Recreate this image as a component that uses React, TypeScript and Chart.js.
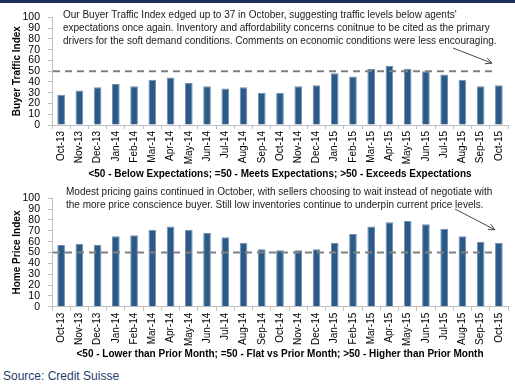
import React, { useEffect, useRef } from "react";
import { Chart, registerables } from "chart.js";

Chart.register(...registerables);

const months: string[] = [
  "Oct-13", "Nov-13", "Dec-13", "Jan-14", "Feb-14", "Mar-14", "Apr-14", "May-14", "Jun-14",
  "Jul-14", "Aug-14", "Sep-14", "Oct-14", "Nov-14", "Dec-14", "Jan-15", "Feb-15", "Mar-15",
  "Apr-15", "May-15", "Jun-15", "Jul-15", "Aug-15", "Sep-15", "Oct-15",
];

const buyerTraffic: number[] = [
  28, 32, 35, 38, 36, 42, 44, 39, 36, 34, 35, 30, 30, 36, 37, 48, 45, 52, 55, 52, 50, 47, 42, 36, 37,
];

const homePrice: number[] = [
  57, 58, 57, 65, 66, 71, 74, 71, 68, 64, 59, 53, 52, 52, 53, 59, 67, 74, 78, 79, 76, 72, 65, 60, 59,
];

const neutralLevel = 50;
const yTicks: number[] = [0, 10, 20, 30, 40, 50, 60, 70, 80, 90, 100];

const topNote: string[] = [
  "Our Buyer Traffic Index edged up to 37 in October, suggesting traffic levels below agents'",
  "expectations once again. Inventory and affordability concerns conitnue to be cited as the primary",
  "drivers for the soft demand conditions. Comments on economic conditions were less encouraging.",
];
const bottomNote: string[] = [
  "Modest pricing gains continued in October, with sellers choosing to wait instead of negotiate with",
  "the more price conscience buyer. Still low inventories continue to underpin current price levels.",
];

const topYTitle = "Buyer Traffic Index";
const topXTitle = "<50 - Below Expectations; =50 - Meets Expectations; >50 - Exceeds Expectations";
const bottomYTitle = "Home Price Index";
const bottomXTitle = "<50 - Lower than Prior Month; =50 - Flat vs Prior Month; >50 - Higher than Prior Month";

const FONT = "'Liberation Sans', Arial, Helvetica, sans-serif";
const BAR = "#2b5a87";
const AXIS = "#bfbfbf";

type Cfg = {
  values: number[];
  yTitle: string;
  xTitle: string;
  note: string[];
  noteX: number;
  noteY: number;
  padTop: number;
  xHeight: number;
  arrow: { fromX: number; fromY: number; tipDX: number; tipDY: number };
};

function makeChart(canvas: HTMLCanvasElement, cfg: Cfg) {
  const overlay = {
    id: "overlay",
    afterDatasetsDraw(chart: any) {
      const { ctx, chartArea, scales } = chart;
      const x = scales.x;
      const y = scales.y;
      const y50 = y.getPixelForValue(neutralLevel);
      ctx.save();
      ctx.strokeStyle = "#808080";
      ctx.lineWidth = 2;
      ctx.setLineDash([7, 5]);
      ctx.beginPath();
      ctx.moveTo(chartArea.left + 1, y50);
      ctx.lineTo(x.getPixelForValue(months.length - 1) - 5, y50);
      ctx.stroke();
      ctx.restore();

      ctx.save();
      ctx.fillStyle = "#1a1a1a";
      ctx.font = `10px ${FONT}`;
      ctx.textBaseline = "middle";
      cfg.note.forEach((line, i) => {
        ctx.fillText(line, cfg.noteX, cfg.noteY + i * 13.3);
      });
      ctx.restore();

      const tipX = x.getPixelForValue(months.length - 1) + cfg.arrow.tipDX;
      const tipY = y.getPixelForValue(cfg.values[cfg.values.length - 1]) + cfg.arrow.tipDY;
      const fx = cfg.arrow.fromX;
      const fy = cfg.arrow.fromY;
      const ang = Math.atan2(tipY - fy, tipX - fx);
      ctx.save();
      ctx.strokeStyle = "#333";
      ctx.lineWidth = 0.9;
      ctx.beginPath();
      ctx.moveTo(fx, fy);
      ctx.lineTo(tipX, tipY);
      ctx.moveTo(tipX - 7 * Math.cos(ang - 0.45), tipY - 7 * Math.sin(ang - 0.45));
      ctx.lineTo(tipX, tipY);
      ctx.lineTo(tipX - 7 * Math.cos(ang + 0.45), tipY - 7 * Math.sin(ang + 0.45));
      ctx.stroke();
      ctx.restore();
    },
  };

  return new Chart(canvas, {
    type: "bar",
    data: {
      labels: months,
      datasets: [
        {
          data: cfg.values,
          backgroundColor: BAR,
          borderColor: "#6f90b2",
          borderWidth: { left: 1, right: 1, top: 1, bottom: 0 } as any,
          barPercentage: 0.42,
          categoryPercentage: 1,
        },
      ],
    },
    options: {
      animation: false,
      responsive: false,
      maintainAspectRatio: false,
      layout: { padding: { top: cfg.padTop, right: 7, left: 0, bottom: 0 } },
      plugins: { legend: { display: false }, tooltip: { enabled: false } },
      scales: {
        x: {
          offset: true,
          grid: {
            display: true,
            drawOnChartArea: false,
            drawTicks: true,
            tickLength: 4,
            color: AXIS,
            offset: true,
          },
          border: { display: true, color: AXIS, width: 1 },
          ticks: {
            autoSkip: false,
            maxRotation: 90,
            minRotation: 90,
            padding: 2,
            color: "#000",
            font: { family: FONT, size: 10 },
          },
          title: {
            display: true,
            text: cfg.xTitle,
            color: "#000",
            font: { family: FONT, size: 10, weight: "bold" },
            padding: { top: 0, bottom: 3 },
          },
          afterFit(scale: any) {
            scale.height = cfg.xHeight;
          },
        },
        y: {
          min: 0,
          max: 100,
          afterBuildTicks(scale: any) {
            scale.ticks = yTicks.map((v) => ({ value: v }));
          },
          grid: {
            display: true,
            drawOnChartArea: false,
            drawTicks: true,
            tickLength: 4,
            color: AXIS,
          },
          border: { display: true, color: AXIS, width: 1 },
          ticks: {
            autoSkip: false,
            padding: 8,
            color: "#000",
            font: { family: FONT, size: 10.5 },
          },
          title: {
            display: true,
            text: cfg.yTitle,
            color: "#000",
            font: { family: FONT, size: 10, weight: "bold" },
            padding: { top: 11, bottom: 0 },
          },
          afterFit(scale: any) {
            scale.width = 52;
          },
        },
      },
    },
    plugins: [overlay],
  });
}

export default function App() {
  const topRef = useRef<HTMLCanvasElement>(null);
  const botRef = useRef<HTMLCanvasElement>(null);

  useEffect(() => {
    document.body.style.margin = "0";
    const c1 = makeChart(topRef.current!, {
      values: buyerTraffic,
      yTitle: topYTitle,
      xTitle: topXTitle,
      note: topNote,
      noteX: 63,
      noteY: 12,
      padTop: 10.3,
      xHeight: 58,
      arrow: { fromX: 453, fromY: 45, tipDX: -7, tipDY: -22 },
    });
    const c2 = makeChart(botRef.current!, {
      values: homePrice,
      yTitle: bottomYTitle,
      xTitle: bottomXTitle,
      note: bottomNote,
      noteX: 66,
      noteY: 9.3,
      padTop: 15.3,
      xHeight: 56.3,
      arrow: { fromX: 455, fromY: 26, tipDX: -4, tipDY: -13 },
    });
    return () => {
      c1.destroy();
      c2.destroy();
    };
  }, []);

  return (
    <div style={{ position: "absolute", left: 0, top: 0, width: 515, height: 391, background: "#fff", overflow: "hidden" }}>
      <div style={{ position: "absolute", left: 0, top: 0, width: 515, height: 3, background: "#1f3060" }} />
      <canvas ref={topRef} width={515} height={180} style={{ position: "absolute", left: 0, top: 3, width: 515, height: 180 }} />
      <canvas ref={botRef} width={515} height={180} style={{ position: "absolute", left: 0, top: 183, width: 515, height: 180 }} />
      <div
        style={{
          position: "absolute",
          left: 3,
          top: 368,
          fontFamily: FONT,
          fontSize: 12,
          color: "#1f3c6e",
          lineHeight: "16px",
          whiteSpace: "nowrap",
        }}
      >
        Source: Credit Suisse
      </div>
    </div>
  );
}
